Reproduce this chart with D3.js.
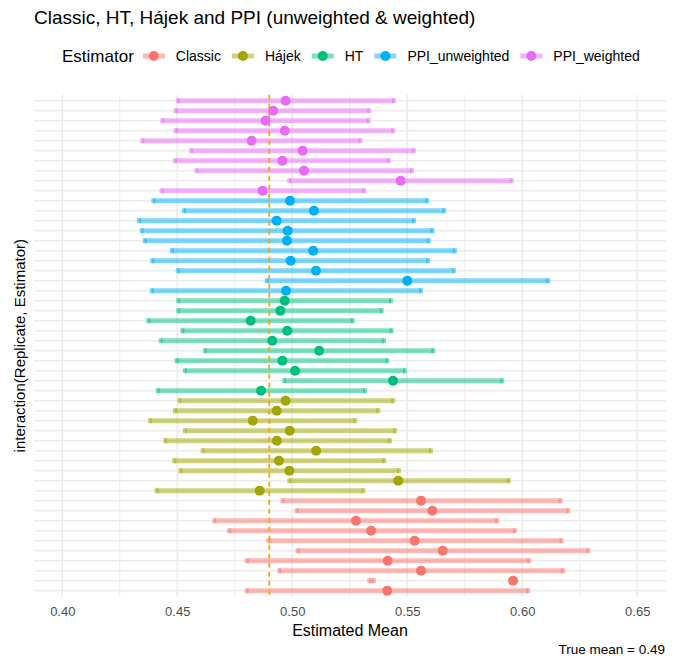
<!DOCTYPE html>
<html>
<head>
<meta charset="utf-8">
<script src="https://cdn.jsdelivr.net/npm/d3@7"></script>
<style>
  body { margin: 0; background: #ffffff; }
  svg text { font-family: "Liberation Sans", Arial, Helvetica, sans-serif; }
</style>
</head>
<body>
<div id="chart"></div>
<script>
// Estimators (legend + y order, bottom to top)
const estimators = ["Classic", "Hájek", "HT", "PPI_unweighted", "PPI_weighted"];
const replicates = [1, 2, 3, 4, 5, 6, 7, 8, 9, 10];
const trueMean = 0.49;
const xTicks = [0.40, 0.45, 0.50, 0.55, 0.60, 0.65];

// Point estimates per estimator, replicate 1..10
const estClassic = [0.5413, 0.5960, 0.5560, 0.5415, 0.5654, 0.5532, 0.5343, 0.5277, 0.5609, 0.5560];
const estHajek   = [0.4858, 0.5461, 0.4987, 0.4942, 0.5104, 0.4933, 0.4989, 0.4828, 0.4932, 0.4971];
const estHT      = [0.4864, 0.5438, 0.5012, 0.4957, 0.5117, 0.4913, 0.4978, 0.4819, 0.4948, 0.4967];
const estPPIu    = [0.4973, 0.5500, 0.5103, 0.4993, 0.5091, 0.4977, 0.4980, 0.4932, 0.5094, 0.4990];
const estPPIw    = [0.4871, 0.5471, 0.5051, 0.4957, 0.5045, 0.4823, 0.4967, 0.4884, 0.4917, 0.4971];

// Lower CI bounds
const lowClassic = [0.4802, 0.5335, 0.4943, 0.4802, 0.5023, 0.4896, 0.4725, 0.4661, 0.5019, 0.4957];
const lowHajek   = [0.4410, 0.4987, 0.4513, 0.4486, 0.4610, 0.4447, 0.4533, 0.4381, 0.4490, 0.4509];
const lowHT      = [0.4415, 0.4965, 0.4533, 0.4497, 0.4620, 0.4428, 0.4522, 0.4374, 0.4504, 0.4504];
const lowPPIu    = [0.4389, 0.4889, 0.4502, 0.4391, 0.4476, 0.4358, 0.4345, 0.4333, 0.4529, 0.4396];
const lowPPIw    = [0.4432, 0.4987, 0.4583, 0.4490, 0.4560, 0.4348, 0.4493, 0.4435, 0.4493, 0.4502];

// Upper CI bounds
const upClassic = [0.6026, 0.5355, 0.6178, 0.6030, 0.6287, 0.6171, 0.5968, 0.5891, 0.6200, 0.6167];
const upHajek   = [0.5309, 0.5942, 0.5464, 0.5400, 0.5603, 0.5425, 0.5447, 0.5274, 0.5374, 0.5439];
const upHT      = [0.5316, 0.5913, 0.5490, 0.5413, 0.5613, 0.5399, 0.5432, 0.5263, 0.5389, 0.5429];
const upPPIu    = [0.5560, 0.6113, 0.5703, 0.5591, 0.5707, 0.5594, 0.5610, 0.5530, 0.5661, 0.5587];
const upPPIw    = [0.5312, 0.5954, 0.5520, 0.5420, 0.5529, 0.5297, 0.5439, 0.5332, 0.5335, 0.5442];

const estAll = [estClassic, estHajek, estHT, estPPIu, estPPIw];
const lowAll = [lowClassic, lowHajek, lowHT, lowPPIu, lowPPIw];
const upAll  = [upClassic, upHajek, upHT, upPPIu, upPPIw];

// Flat table built from the arrays above
const rows = [];
estimators.forEach((e, i) => {
    replicates.forEach((r, j) => {
        rows.push({ key: `${r}.${e}`, estimator: e, est: estAll[i][j], lo: lowAll[i][j], hi: upAll[i][j] });
    });
});

const W = 689, H = 659;
const panel = { left: 34, right: 666, top: 94.7, bottom: 596.7 };

const svg = d3.select("#chart").append("svg")
    .attr("width", W)
    .attr("height", H);

const x = d3.scaleLinear()
    .domain([0.3877, 0.6625])
    .range([panel.left, panel.right]);

const y = d3.scalePoint()
    .domain(rows.map(d => d.key))
    .range([panel.bottom, panel.top])
    .padding(0.6);

const color = d3.scaleOrdinal()
    .domain(estimators)
    .range(["#F8766D", "#A3A500", "#00BF7D", "#00B0F6", "#E76BF3"]);

// Grid
const grid = svg.append("g");
const minorTicks = d3.range(0.425, 0.65, 0.05);
grid.selectAll(".minor")
    .data(minorTicks)
    .enter().append("line")
    .attr("x1", d => x(d)).attr("x2", d => x(d))
    .attr("y1", panel.top).attr("y2", panel.bottom)
    .attr("stroke", "#ebebeb").attr("stroke-width", 1);
grid.selectAll(".major")
    .data(xTicks)
    .enter().append("line")
    .attr("x1", d => x(d)).attr("x2", d => x(d))
    .attr("y1", panel.top).attr("y2", panel.bottom)
    .attr("stroke", "#ebebeb").attr("stroke-width", 1.6);
grid.selectAll(".hrow")
    .data(rows)
    .enter().append("line")
    .attr("x1", panel.left).attr("x2", panel.right)
    .attr("y1", d => y(d.key)).attr("y2", d => y(d.key))
    .attr("stroke", "#ebebeb").attr("stroke-width", 1.5);

// CI bars
const bars = svg.append("g");
bars.selectAll(".bar")
    .data(rows)
    .enter().append("line")
    .attr("x1", d => x(d.lo)).attr("x2", d => x(d.hi))
    .attr("y1", d => y(d.key)).attr("y2", d => y(d.key))
    .attr("stroke", d => color(d.estimator))
    .attr("stroke-width", 5)
    .attr("stroke-opacity", 0.5);

// caps at both ends
["lo", "hi"].forEach(end => {
    bars.selectAll(".cap-" + end)
        .data(rows)
        .enter().append("rect")
        .attr("x", d => x(d[end]) - 2)
        .attr("y", d => y(d.key) - 2.5)
        .attr("width", 4)
        .attr("height", 5)
        .attr("fill", d => color(d.estimator))
        .attr("fill-opacity", 0.5);
});

// True mean line
svg.append("line")
    .attr("x1", x(trueMean)).attr("x2", x(trueMean))
    .attr("y1", panel.top).attr("y2", panel.bottom)
    .attr("stroke", "#FFA500")
    .attr("stroke-width", 1.8)
    .attr("stroke-dasharray", "5,4");

// Points
svg.append("g").selectAll("circle")
    .data(rows)
    .enter().append("circle")
    .attr("cx", d => x(d.est))
    .attr("cy", d => y(d.key))
    .attr("r", 5)
    .attr("fill", d => color(d.estimator));

// X axis labels
const xAxis = svg.append("g")
    .attr("transform", `translate(0,${panel.bottom + 2})`)
    .call(d3.axisBottom(x).tickValues(xTicks).tickFormat(d3.format(".2f")).tickSize(0).tickPadding(8));
xAxis.select(".domain").remove();
xAxis.selectAll("text")
    .style("font-size", "13px")
    .style("fill", "#4d4d4d");

svg.append("text")
    .attr("x", (panel.left + panel.right) / 2)
    .attr("y", 636)
    .attr("text-anchor", "middle")
    .style("font-size", "16px")
    .style("fill", "#000")
    .text("Estimated Mean");

svg.append("text")
    .attr("transform", `translate(25,${(panel.top + panel.bottom) / 2}) rotate(-90)`)
    .attr("text-anchor", "middle")
    .style("font-size", "15px")
    .style("fill", "#000")
    .text("interaction(Replicate, Estimator)");

// Title + caption
svg.append("text")
    .attr("x", 34)
    .attr("y", 24)
    .style("font-size", "19px")
    .style("fill", "#000")
    .text("Classic, HT, Hájek and PPI (unweighted & weighted)");

svg.append("text")
    .attr("x", 665)
    .attr("y", 654)
    .attr("text-anchor", "end")
    .style("font-size", "13.5px")
    .style("fill", "#000")
    .text("True mean = 0.49");

// Legend
const legend = svg.append("g").attr("transform", "translate(0,56)");
const legTitle = legend.append("text")
    .attr("x", 62)
    .attr("y", 6)
    .style("font-size", "17px")
    .text("Estimator");
let lx = 62 + legTitle.node().getComputedTextLength() + 9;
estimators.forEach(e => {
    const g = legend.append("g").attr("transform", `translate(${lx},0)`);
    g.append("line")
        .attr("x1", 0).attr("x2", 22)
        .attr("stroke", color(e))
        .attr("stroke-width", 5)
        .attr("stroke-opacity", 0.5);
    g.append("circle")
        .attr("cx", 11).attr("r", 5)
        .attr("fill", color(e));
    const t = g.append("text")
        .attr("x", 33)
        .attr("y", 5)
        .style("font-size", "14px")
        .text(e);
    lx += 33 + t.node().getComputedTextLength() + 11;
});
</script>
</body>
</html>
